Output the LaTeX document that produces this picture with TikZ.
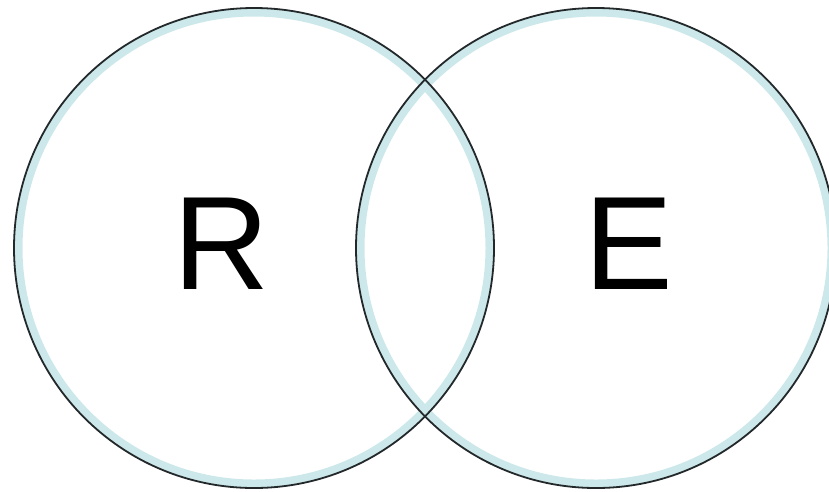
\documentclass[tikz,border=0pt]{standalone}
\usepackage{fontspec}
\setmainfont{Liberation Sans}
\usetikzlibrary{positioning}

\definecolor{bandcyan}{RGB}{204,232,234}
\definecolor{rimgray}{RGB}{35,40,42}

\begin{document}
\begin{tikzpicture}[
      x=1pt, y=-1pt,
      band/.style={draw=bandcyan, line width=8pt},
      rim/.style={draw=rimgray, line width=1.8pt},
      letter/.style={inner sep=0pt, font=\fontsize{133}{133}\selectfont}
    ]
    \useasboundingbox (0,0) rectangle (829,491);

    % the two sets
    \coordinate (cr) at (254,248);
    \coordinate (ce) at (596,248);
    \draw[band] (cr) circle[radius=235.5];
    \draw[band] (ce) circle[radius=235.5];
    \draw[rim] (cr) circle[radius=240];
    \draw[rim] (ce) circle[radius=240];

    \node[letter] (r) at (222,244) {R};
    \node[letter] (e) at (629,244) {E};
  \end{tikzpicture}
\end{document}
